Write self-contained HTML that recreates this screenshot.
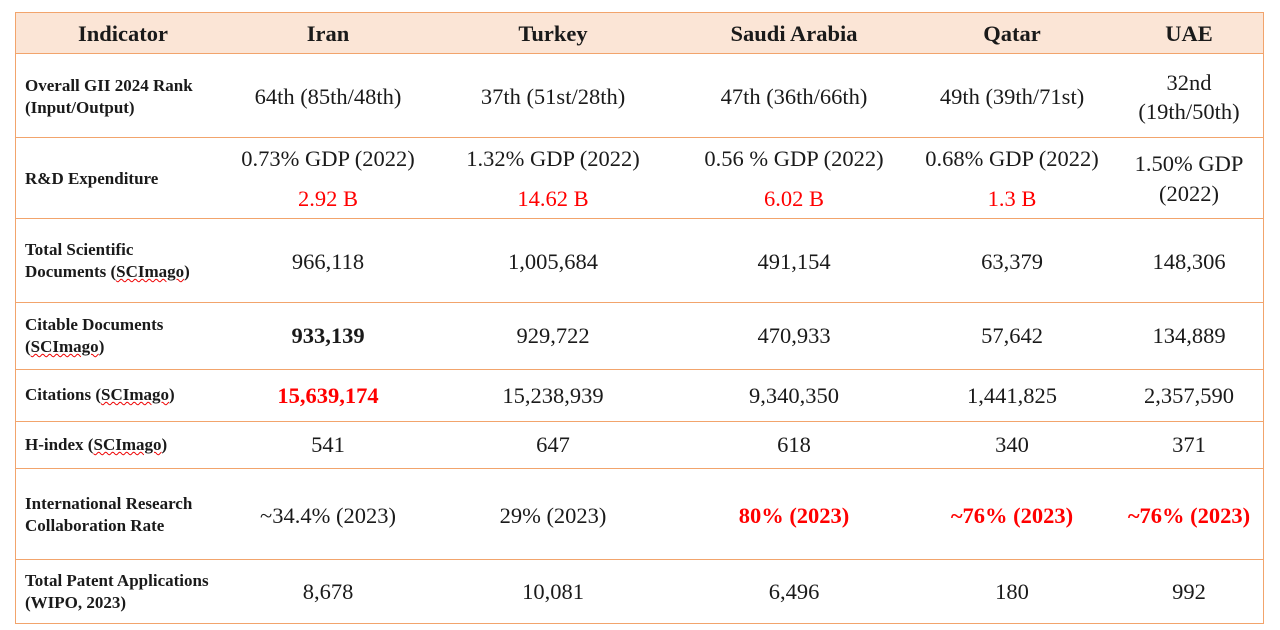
<!DOCTYPE html>
<html><head><meta charset="utf-8"><style>
body{margin:0;width:1280px;height:630px;background:#fff;position:relative;font-family:"Liberation Serif","Times New Roman",Times,serif;color:#1a1a1a;overflow:hidden}
.t{position:absolute;left:15px;top:12px;width:1247px;height:610px;border:1px solid #f2a46c;box-sizing:content-box}
.hd{position:absolute;left:16px;top:13px;width:1247px;height:40px;background:#fbe5d6}
.hl{position:absolute;left:16px;width:1247px;height:1px;background:#f2a46c}
.c{position:absolute;transform:translate(-50%,-50%);text-align:center;font-size:22.5px;white-space:nowrap;line-height:26px}
.h{font-weight:bold;font-size:22.5px}
.l{position:absolute;left:25px;transform:translateY(-50%);font-weight:bold;font-size:17px;line-height:22px;white-space:nowrap}
.r{color:#ff0000}
.b{font-weight:bold}
u{text-decoration:underline wavy #e00;text-decoration-thickness:1px}
</style></head><body>
<div class="hd"></div>
<div class="t"></div>
<div class="hl" style="top:53px"></div>
<div class="hl" style="top:137px"></div>
<div class="hl" style="top:218px"></div>
<div class="hl" style="top:302px"></div>
<div class="hl" style="top:369px"></div>
<div class="hl" style="top:421px"></div>
<div class="hl" style="top:468px"></div>
<div class="hl" style="top:559px"></div>

<div class="c h" style="left:123px;top:34px">Indicator</div>
<div class="c h" style="left:328px;top:34px">Iran</div>
<div class="c h" style="left:553px;top:34px">Turkey</div>
<div class="c h" style="left:794px;top:34px">Saudi Arabia</div>
<div class="c h" style="left:1012px;top:34px">Qatar</div>
<div class="c h" style="left:1189px;top:34px">UAE</div>

<div class="l" style="top:97px">Overall GII 2024 Rank<br>(Input/Output)</div>
<div class="c" style="left:328px;top:97px">64th (85th/48th)</div>
<div class="c" style="left:553px;top:97px">37th (51st/28th)</div>
<div class="c" style="left:794px;top:97px">47th (36th/66th)</div>
<div class="c" style="left:1012px;top:97px">49th (39th/71st)</div>
<div class="c" style="left:1189px;top:97px;line-height:29px">32nd<br>(19th/50th)</div>

<div class="l" style="top:179px">R&amp;D Expenditure</div>
<div class="c" style="left:328px;top:159px">0.73% GDP (2022)</div>
<div class="c r" style="left:328px;top:199px">2.92 B</div>
<div class="c" style="left:553px;top:159px">1.32% GDP (2022)</div>
<div class="c r" style="left:553px;top:199px">14.62 B</div>
<div class="c" style="left:794px;top:159px">0.56 % GDP (2022)</div>
<div class="c r" style="left:794px;top:199px">6.02 B</div>
<div class="c" style="left:1012px;top:159px">0.68% GDP (2022)</div>
<div class="c r" style="left:1012px;top:199px">1.3 B</div>
<div class="c" style="left:1189px;top:179px;line-height:30px">1.50% GDP<br>(2022)</div>

<div class="l" style="top:261px">Total Scientific<br>Documents (<u>SCImago</u>)</div>
<div class="c" style="left:328px;top:262px">966,118</div>
<div class="c" style="left:553px;top:262px">1,005,684</div>
<div class="c" style="left:794px;top:262px">491,154</div>
<div class="c" style="left:1012px;top:262px">63,379</div>
<div class="c" style="left:1189px;top:262px">148,306</div>

<div class="l" style="top:336px">Citable Documents<br>(<u>SCImago</u>)</div>
<div class="c b" style="left:328px;top:336px">933,139</div>
<div class="c" style="left:553px;top:336px">929,722</div>
<div class="c" style="left:794px;top:336px">470,933</div>
<div class="c" style="left:1012px;top:336px">57,642</div>
<div class="c" style="left:1189px;top:336px">134,889</div>

<div class="l" style="top:395px">Citations (<u>SCImago</u>)</div>
<div class="c b r" style="left:328px;top:396px">15,639,174</div>
<div class="c" style="left:553px;top:396px">15,238,939</div>
<div class="c" style="left:794px;top:396px">9,340,350</div>
<div class="c" style="left:1012px;top:396px">1,441,825</div>
<div class="c" style="left:1189px;top:396px">2,357,590</div>

<div class="l" style="top:445px">H-index (<u>SCImago</u>)</div>
<div class="c" style="left:328px;top:445px">541</div>
<div class="c" style="left:553px;top:445px">647</div>
<div class="c" style="left:794px;top:445px">618</div>
<div class="c" style="left:1012px;top:445px">340</div>
<div class="c" style="left:1189px;top:445px">371</div>

<div class="l" style="top:515px">International Research<br>Collaboration Rate</div>
<div class="c" style="left:328px;top:516px">~34.4% (2023)</div>
<div class="c" style="left:553px;top:516px">29% (2023)</div>
<div class="c b r" style="left:794px;top:516px">80% (2023)</div>
<div class="c b r" style="left:1012px;top:516px">~76% (2023)</div>
<div class="c b r" style="left:1189px;top:516px">~76% (2023)</div>

<div class="l" style="top:592px">Total Patent Applications<br>(WIPO, 2023)</div>
<div class="c" style="left:328px;top:592px">8,678</div>
<div class="c" style="left:553px;top:592px">10,081</div>
<div class="c" style="left:794px;top:592px">6,496</div>
<div class="c" style="left:1012px;top:592px">180</div>
<div class="c" style="left:1189px;top:592px">992</div>
</body></html>
